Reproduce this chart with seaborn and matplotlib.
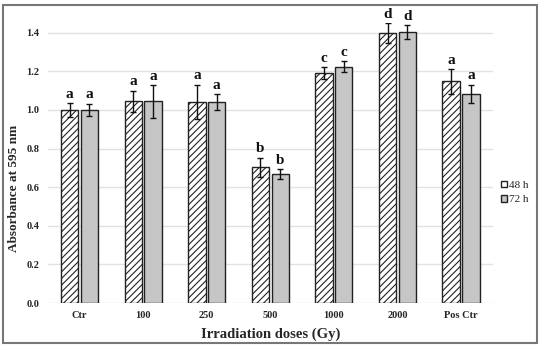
import numpy as np
import pandas as pd
import matplotlib
matplotlib.use("Agg")
import matplotlib.pyplot as plt
import seaborn as sns
from matplotlib.patches import Rectangle, Patch

doses = ["Ctr", "100", "250", "500", "1000", "2000", "Pos Ctr"]
series = ["48 h", "72 h"]
vals_48 = [1.00, 1.045, 1.042, 0.704, 1.193, 1.398, 1.148]
vals_72 = [1.00, 1.045, 1.042, 0.670, 1.224, 1.404, 1.085]
err_48 = [0.034, 0.055, 0.090, 0.050, 0.030, 0.053, 0.065]
err_72 = [0.033, 0.085, 0.040, 0.025, 0.028, 0.036, 0.047]
let_48 = ["a", "a", "a", "b", "c", "d", "a"]
let_72 = ["a", "a", "a", "b", "c", "d", "a"]
yticks = [0.0, 0.2, 0.4, 0.6, 0.8, 1.0, 1.2, 1.4]

df = pd.DataFrame({
    "dose": doses * 2,
    "time": [series[0]] * len(doses) + [series[1]] * len(doses),
    "value": vals_48 + vals_72,
})

sns.set_theme(style="white")
plt.rcParams["font.family"] = ["Liberation Serif", "DejaVu Serif"]
plt.rcParams["hatch.linewidth"] = 0.8

fig = plt.figure(figsize=(5.5, 3.5), dpi=100)
ax = fig.add_axes([0.087, 0.134, 0.809, 0.80])

fill = {"48 h": "white", "72 h": "#c6c6c6"}
sns.barplot(data=df, x="dose", y="value", hue="time", order=doses,
            hue_order=series, palette=fill, width=0.62, gap=0.12,
            edgecolor="#222222", linewidth=1.0, errorbar=None, ax=ax,
            legend=False)

containers = ax.containers
for c, errs, lets, hatch in zip(containers, [err_48, err_72],
                                [let_48, let_72], ["/////", None]):
    for bar, e, l in zip(c, errs, lets):
        if hatch:
            bar.set_hatch(hatch)
            try:
                bar.set_hatchcolor("#555555")
            except Exception:
                pass
        x = bar.get_x() + bar.get_width() / 2
        h = bar.get_height()
        ax.errorbar(x, h, yerr=e, color="#111111", capsize=2.5,
                    elinewidth=1.0, capthick=1.0, zorder=5)
        ax.text(x, h + e + 0.012, l, ha="center", va="bottom",
                fontsize=11, fontweight="bold", color="#111111",
                clip_on=False)

ax.set_ylim(0, 1.45)
ax.set_xlim(-0.5, len(doses) - 0.5)
ax.set_yticks(yticks)
ax.set_yticklabels([f"{t:.1f}" for t in yticks])
ax.yaxis.grid(True, color="#e2e2e2", linewidth=1.0)
ax.set_axisbelow(True)
for s in ax.spines.values():
    s.set_visible(False)
ax.tick_params(axis="both", length=0, labelsize=7.5, pad=6)
for lab in ax.get_xticklabels() + ax.get_yticklabels():
    lab.set_fontweight("bold")

ax.set_xlabel("Irradiation doses (Gy)", fontsize=10.5, fontweight="bold",
              labelpad=5)
ax.set_ylabel("Absorbance at 595 nm", fontsize=9.5, fontweight="bold")
ax.yaxis.set_label_coords(-0.063, 0.41)

handles = [Patch(facecolor="white", edgecolor="#222222", label=series[0]),
           Patch(facecolor="#c6c6c6", edgecolor="#222222", label=series[1])]
fig.legend(handles=handles, loc="center left", bbox_to_anchor=(0.902, 0.45),
           frameon=False, fontsize=8, handlelength=0.55, handleheight=0.55,
           handletextpad=0.2, labelspacing=0.45, borderaxespad=0)

fig.patches.append(Rectangle((0.006, 0.02), 0.970, 0.965,
                             transform=fig.transFigure, fill=False,
                             edgecolor="#777777", linewidth=1.5))

fig.savefig("out.png", dpi=100)
